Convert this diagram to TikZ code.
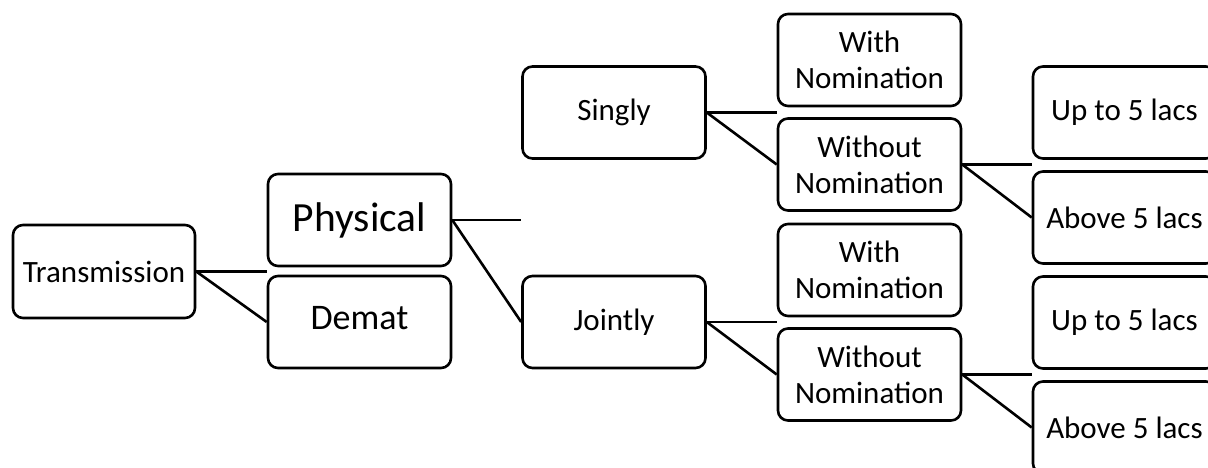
\documentclass[tikz,border=0pt]{standalone}
\usepackage{fontspec}
\setmainfont{Carlito}
\begin{document}
\begin{tikzpicture}[x=1pt,y=-1pt,
  box/.style={draw, line width=2.6pt, rounded corners=10pt, minimum width=183pt, minimum height=92pt, inner sep=0pt, align=center, font=\fontsize{31}{36}\selectfont},
  big/.style={font=\fontsize{41.5}{48}\selectfont},
  mid/.style={font=\fontsize{36}{43}\selectfont},
  conn/.style={line width=2.6pt}]
\useasboundingbox (0,0) rectangle (1208,467);
\clip (0,0) rectangle (1208,467);
\node[box, minimum width=182pt, minimum height=93pt] (trans) at (104,271.5) {Transmission};
\node[box, big] (phys) at (359.5,220) {Physical};
\node[box, mid] (demat) at (359.5,322) {\raisebox{8pt}{Demat}};
\node[box] (singly) at (614,112.5) {Singly};
\node[box] (jointly) at (614,322) {Jointly};
\node[box] (wn1) at (869.5,60) {With\\Nomination};
\node[box] (won1) at (869.5,164.5) {Without\\Nomination};
\node[box] (wn2) at (869.5,270) {With\\Nomination};
\node[box] (won2) at (869.5,374.5) {Without\\Nomination};
\node[box] (up1) at (1124.5,112.5) {Up to 5 lacs};
\node[box] (ab1) at (1124.5,217.5) {Above 5 lacs};
\node[box] (up2) at (1124.5,322.5) {Up to 5 lacs};
\node[box] (ab2) at (1124.5,427.5) {Above 5 lacs};
\draw[conn] (trans.east) -- (trans.east -| phys.west);
\draw[conn] (trans.east) -- (demat.west);
\draw[conn] (phys.east) -- (phys.east -| singly.west);
\draw[conn] (phys.east) -- (jointly.west);
\draw[conn] (singly.east) -- (singly.east -| wn1.west);
\draw[conn] (singly.east) -- (won1.west);
\draw[conn] (jointly.east) -- (jointly.east -| wn2.west);
\draw[conn] (jointly.east) -- (won2.west);
\draw[conn] (won1.east) -- (won1.east -| up1.west);
\draw[conn] (won1.east) -- (ab1.west);
\draw[conn] (won2.east) -- (won2.east -| up2.west);
\draw[conn] (won2.east) -- (ab2.west);
\end{tikzpicture}
\end{document}
